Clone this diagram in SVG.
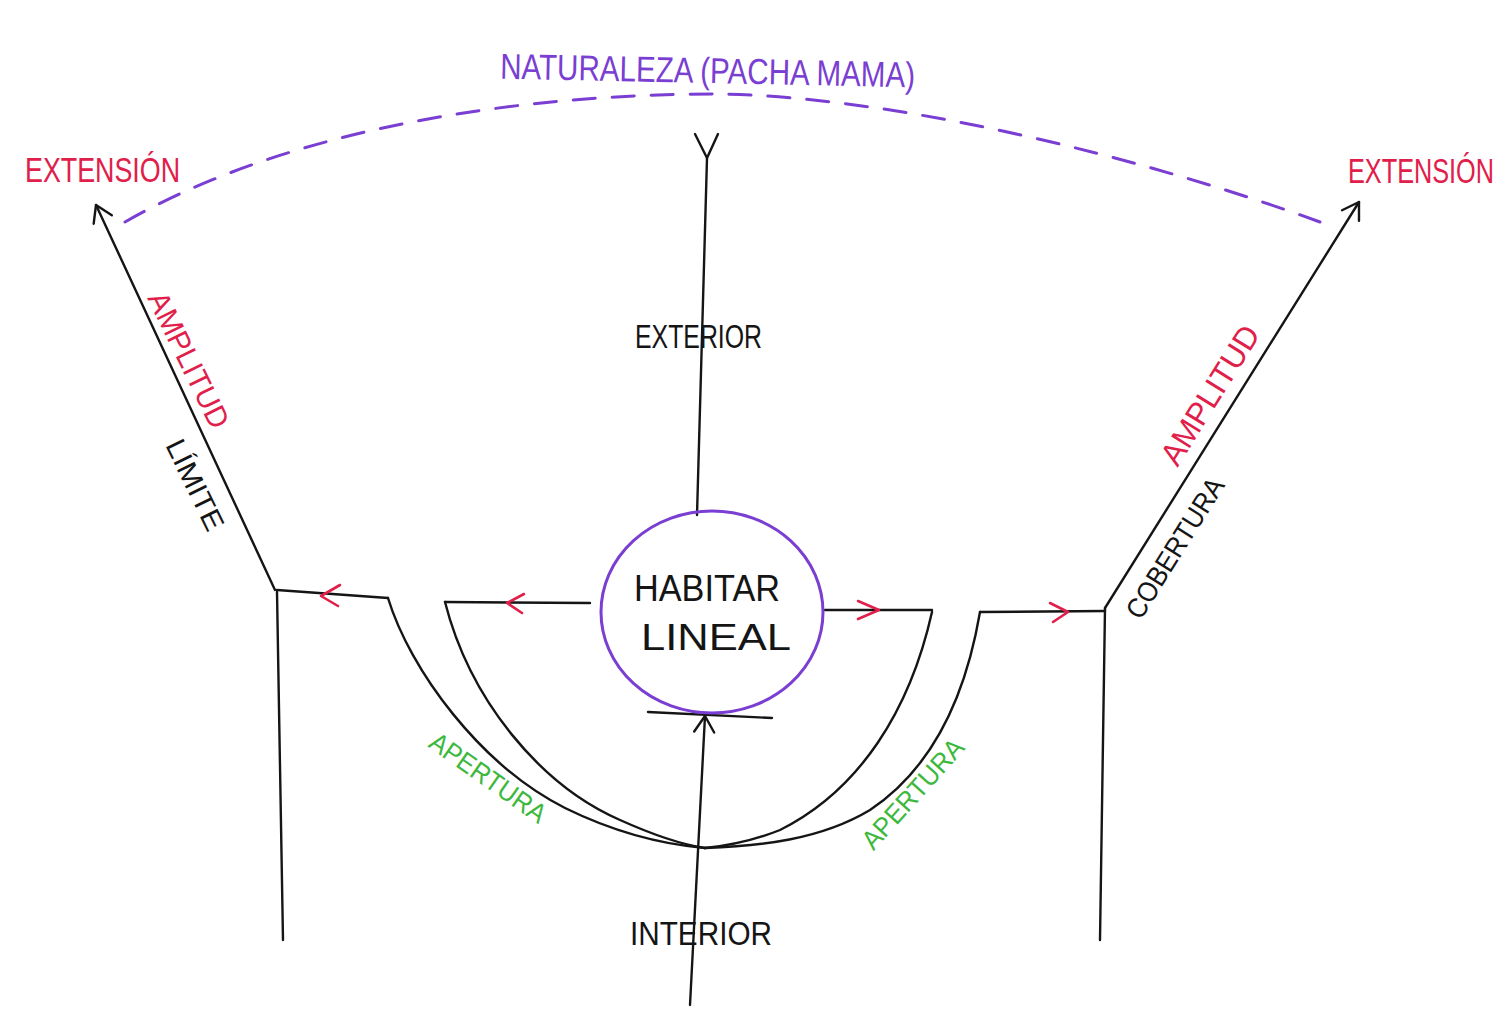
<svg xmlns="http://www.w3.org/2000/svg" width="1510" height="1009" viewBox="0 0 1510 1009">
<style>
  .ink { fill: none; stroke: #151515; stroke-width: 2.4; stroke-linecap: round; stroke-linejoin: round; }
  .red { fill: none; stroke: #e0204a; stroke-width: 2.6; stroke-linecap: round; stroke-linejoin: round; }
  .dash { fill: none; stroke: #7a3fd2; stroke-width: 3; stroke-dasharray: 22 17; stroke-linecap: round; }
  .t { font-family: "Liberation Sans Narrow", "Liberation Sans", sans-serif; font-weight: normal; }
  .tk { fill: #151515; }
  .tr { fill: #e0204a; }
  .tp { fill: #7a3fd2; }
  .tg { fill: #3cb83c; }
</style>
<defs>
  <marker id="chev" markerUnits="userSpaceOnUse" markerWidth="30" markerHeight="30" refX="20" refY="12" orient="auto">
    <path d="M4,2 L20,12 L4,22" fill="none" stroke="#151515" stroke-width="2.4" stroke-linecap="round" stroke-linejoin="round"/>
  </marker>
</defs>
<rect width="1510" height="1009" fill="#ffffff"/>

<g id="connectors">
  <!-- naturaleza dashed arc -->
  <path class="dash" d="M125,222 C300,122 540,94 715,94 C900,96 1150,160 1320,222"/>
  <!-- left arm to extension -->
  <path class="ink" d="M275,590 L96,205" marker-end="url(#chev)"/>
  <!-- right arm to extension -->
  <path class="ink" d="M1105,608 L1359,202" marker-end="url(#chev)"/>
  <!-- top vertical exterior -->
  <path class="ink" d="M697,515 L707,158"/>
  <path class="ink" d="M695,134 L707,158 L718,134"/>
  <!-- bottom interior arrow -->
  <path class="ink" d="M690,1005 L705,716" marker-end="url(#chev)"/>
  <path class="ink" d="M648,712 L772,718"/>
  <!-- left walls -->
  <path class="ink" d="M277,592 L283,940"/>
  <path class="ink" d="M277,590 L388,598"/>
  <path class="ink" d="M388,598 C410,670 480,765 565,808 C620,835 670,845 705,848"/>
  <path class="ink" d="M445,602 L590,603"/>
  <path class="ink" d="M445,602 C470,700 540,785 620,820 C660,838 685,845 705,848"/>
  <!-- right walls -->
  <path class="ink" d="M825,610 L932,610"/>
  <path class="ink" d="M932,612 C910,710 860,790 780,830 C750,842 725,846 705,848"/>
  <path class="ink" d="M980,612 L1105,611"/>
  <path class="ink" d="M980,612 C965,700 930,770 870,810 C820,840 760,846 705,848"/>
  <path class="ink" d="M1105,608 L1100,940"/>
  <!-- red direction chevrons -->
  <path class="red" d="M340,585 L321,596 L338,606"/>
  <path class="red" d="M524,594 L507,603 L522,613"/>
  <path class="red" d="M858,601 L879,610 L858,619"/>
  <path class="red" d="M1050,603 L1068,612 L1053,622"/>
</g>

<g id="naturaleza">
  <text class="t tp" x="500" y="83" font-size="36" textLength="415" lengthAdjust="spacingAndGlyphs" transform="rotate(1.2 707 75)">NATURALEZA (PACHA MAMA)</text>
</g>
<g id="extension-left">
  <text class="t tr" x="0" y="0" font-size="26" textLength="155" lengthAdjust="spacingAndGlyphs" transform="translate(25,182) scale(1,1.35)">EXTENSIÓN</text>
</g>
<g id="extension-right">
  <text class="t tr" x="0" y="0" font-size="26" textLength="146" lengthAdjust="spacingAndGlyphs" transform="translate(1348,183) scale(1,1.35)">EXTENSIÓN</text>
</g>
<g id="exterior">
  <text class="t tk" x="635" y="348" font-size="33" textLength="127" lengthAdjust="spacingAndGlyphs">EXTERIOR</text>
</g>
<g id="habitar-lineal">
  <ellipse cx="712" cy="612" rx="111" ry="101" fill="none" stroke="#7a3fd2" stroke-width="3"/>
  <text class="t tk" x="634" y="601" font-size="36" textLength="146" lengthAdjust="spacingAndGlyphs">HABITAR</text>
  <text class="t tk" x="641" y="650" font-size="36" textLength="150" lengthAdjust="spacingAndGlyphs">LINEAL</text>
</g>
<g id="interior">
  <text class="t tk" x="630" y="945" font-size="33" textLength="142" lengthAdjust="spacingAndGlyphs">INTERIOR</text>
</g>
<g id="amplitud-left">
  <text class="t tr" x="0" y="0" font-size="30" text-anchor="middle" dominant-baseline="central" textLength="148" lengthAdjust="spacingAndGlyphs" transform="translate(189,360) rotate(64)">AMPLITUD</text>
</g>
<g id="limite">
  <text class="t tk" x="0" y="0" font-size="28" text-anchor="middle" dominant-baseline="central" textLength="98" lengthAdjust="spacingAndGlyphs" transform="translate(195,485) rotate(64)">LÍMITE</text>
</g>
<g id="amplitud-right">
  <text class="t tr" x="0" y="0" font-size="32" text-anchor="middle" dominant-baseline="central" textLength="158" lengthAdjust="spacingAndGlyphs" transform="translate(1210,395) rotate(-58)">AMPLITUD</text>
</g>
<g id="cobertura">
  <text class="t tk" x="0" y="0" font-size="28" text-anchor="middle" dominant-baseline="central" textLength="160" lengthAdjust="spacingAndGlyphs" transform="translate(1175,548) rotate(-58)">COBERTURA</text>
</g>
<g id="apertura-left">
  <text class="t tg" x="0" y="0" font-size="27" text-anchor="middle" dominant-baseline="central" textLength="136" lengthAdjust="spacingAndGlyphs" transform="translate(488,778) rotate(35)">APERTURA</text>
</g>
<g id="apertura-right">
  <text class="t tg" x="0" y="0" font-size="27" text-anchor="middle" dominant-baseline="central" textLength="138" lengthAdjust="spacingAndGlyphs" transform="translate(913,794) rotate(-48)">APERTURA</text>
</g>
</svg>
